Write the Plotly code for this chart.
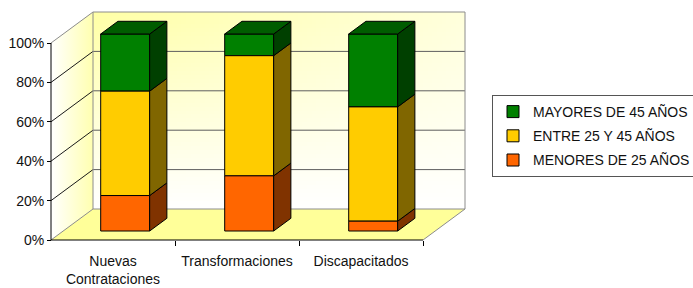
import numpy as np
import plotly.graph_objects as go

# ---------------- data ----------------
categories = ["Nuevas<br>Contrataciones", "Transformaciones", "Discapacitados"]
series_names = ["MENORES DE 25 AÑOS", "ENTRE 25 Y 45 AÑOS", "MAYORES DE 45 AÑOS"]
menores = [18, 28, 5]
entre = [53, 61, 58]
mayores = [29, 11, 37]
y_tick_values = [0, 20, 40, 60, 80, 100]
y_tick_labels = ["0%", "20%", "40%", "60%", "80%", "100%"]

series = [menores, entre, mayores]
front_colors = ["#FF6600", "#FFCC00", "#008000"]
side_colors = ["#803300", "#806600", "#004000"]
top_colors = ["#B34700", "#B38F00", "#005C00"]

# ---------------- geometry (pseudo-3D projection) ----------------
W_PX, H_PX = 693, 288
ORIGIN_X, ORIGIN_Y = 51, 240          # pixel position of (x=0, y=0%)
PX_CAT = 124                           # pixels per category
PX_PCT = 1.97                          # pixels per percent
DX = 42 / PX_CAT                       # depth offset in x (data units)
DY = 31 / PX_PCT                       # depth offset in y (data units)
D0 = 0.29                              # depth of bar front face
DD = 0.41                              # bar depth
BAR_W = 0.395
PLOT_L, PLOT_R, PLOT_T, PLOT_B = 41, 470, 8, 246

x_range = [(PLOT_L - ORIGIN_X) / PX_CAT, (PLOT_R - ORIGIN_X) / PX_CAT]
y_range = [(ORIGIN_Y - PLOT_B) / PX_PCT, (ORIGIN_Y - PLOT_T) / PX_PCT]
n = len(categories)
ymax = 100

fig = go.Figure()

# ---- back wall (2D gradient) ----
nx, ny = 80, 50
xe = np.linspace(DX, n + DX, nx + 1)
ye = np.linspace(DY, ymax + DY, ny + 1)
xc = (xe[:-1] + xe[1:]) / 2
yc = (ye[:-1] + ye[1:]) / 2
XN, YN = np.meshgrid((xc - DX) / n, (yc - DY) / ymax)
zwall = YN * (1 - 0.6 * XN)
fig.add_trace(go.Heatmap(x=xe, y=ye, z=zwall, zmin=0, zmax=1,
                         colorscale=[[0, "#FFFFFF"], [1, "#FFFFA5"]],
                         showscale=False, hoverinfo="skip"))

# ---- left wall ----
fig.add_trace(go.Scatter(x=[0, DX, DX, 0, 0], y=[0, DY, ymax + DY, ymax, 0],
                         mode="lines", fill="toself", line=dict(width=0),
                         fillgradient=dict(type="horizontal",
                                           colorscale=[[0, "#FFFFFF"], [1, "#FFFFB0"]],
                                           start=0, stop=DX),
                         showlegend=False, hoverinfo="skip"))

# ---- floor ----
fig.add_trace(go.Scatter(x=[0, n, n + DX, DX, 0], y=[0, 0, DY, DY, 0],
                         mode="lines", fill="toself", fillcolor="#FFFF99",
                         line=dict(width=0), showlegend=False, hoverinfo="skip"))

# ---- grid lines ----
gx, gy, lx, ly = [], [], [], []
for g in y_tick_values[1:-1]:
    gx += [DX, n + DX, None]
    gy += [g + DY, g + DY, None]
    lx += [0, DX, None]
    ly += [g, g + DY, None]
fig.add_trace(go.Scatter(x=gx, y=gy, mode="lines", line=dict(color="#5E5E5E", width=1),
                         showlegend=False, hoverinfo="skip"))
fig.add_trace(go.Scatter(x=lx, y=ly, mode="lines", line=dict(color="#1A1A1A", width=1),
                         showlegend=False, hoverinfo="skip"))

# ---- wall edges ----
ex = [0, DX, n + DX, n + DX, DX, DX, None, 0, DX, None, n, n + DX]
ey = [ymax, ymax + DY, ymax + DY, DY, DY, ymax + DY, None, 0, DY, None, 0, DY]
fig.add_trace(go.Scatter(x=ex, y=ey, mode="lines", line=dict(color="#8C8C8C", width=1),
                         showlegend=False, hoverinfo="skip"))

# ---- stacking geometry ----
centers = [i + 0.5 + D0 * DX for i in range(n)]
base0 = D0 * DY
cum = [base0] * n
seg_bounds = []
for vals in series:
    seg_bounds.append([(cum[i], cum[i] + vals[i]) for i in range(n)])
    cum = [cum[i] + vals[i] for i in range(n)]

# ---- bars (front faces) on overlay axes; added top series first for legend order ----
for k in reversed(range(len(series))):
    fig.add_trace(go.Bar(x=centers, y=series[k], base=[b for b, _ in seg_bounds[k]],
                         width=BAR_W, name=series_names[k], legendgroup=series_names[k],
                         marker=dict(color=front_colors[k], line=dict(color="#000000", width=1)),
                         xaxis="x2", yaxis="y2", hoverinfo="skip"))

# ---- side faces ----
ox, oy = DD * DX, DD * DY
for k in range(len(series)):
    sx, sy = [], []
    for i in range(n):
        b, t = seg_bounds[k][i]
        if t - b <= 0:
            continue
        xr = centers[i] + BAR_W / 2
        sx += [xr, xr + ox, xr + ox, xr, xr, None]
        sy += [b, b + oy, t + oy, t, b, None]
    fig.add_trace(go.Scatter(x=sx, y=sy, mode="lines", fill="toself",
                             fillcolor=side_colors[k], line=dict(color="#000000", width=1),
                             xaxis="x2", yaxis="y2", showlegend=False, hoverinfo="skip"))

# ---- top faces ----
for i in range(n):
    kt = max(k for k in range(len(series)) if series[k][i] > 0)
    T = cum[i]
    xl = centers[i] - BAR_W / 2
    xr = centers[i] + BAR_W / 2
    fig.add_trace(go.Scatter(x=[xl, xr, xr + ox, xl + ox, xl],
                             y=[T, T, T + oy, T + oy, T],
                             mode="lines", fill="toself", fillcolor=top_colors[kt],
                             line=dict(color="#000000", width=1),
                             xaxis="x2", yaxis="y2", showlegend=False, hoverinfo="skip"))

# ---- axis lines ----
fig.add_shape(type="line", x0=0, y0=0, x1=0, y1=ymax, xref="x", yref="y",
              line=dict(color="#000000", width=1))
fig.add_shape(type="line", x0=0, y0=0, x1=n, y1=0, xref="x", yref="y",
              line=dict(color="#000000", width=1))

font = dict(family="Liberation Sans, Arial, sans-serif", size=14, color="#111111")
fig.update_layout(
    width=W_PX, height=H_PX,
    margin=dict(l=PLOT_L, r=W_PX - PLOT_R, t=PLOT_T, b=H_PX - PLOT_B, pad=0,
                autoexpand=False),
    paper_bgcolor="#FFFFFF", plot_bgcolor="#FFFFFF",
    font=font, barmode="overlay",
    xaxis=dict(range=x_range, domain=[0, 1], anchor="free", automargin=False,
               position=(PLOT_B - ORIGIN_Y) / (PLOT_B - PLOT_T),
               tickmode="array", tickvals=[i + 0.5 for i in range(n)], ticktext=categories,
               ticks="", showgrid=False, zeroline=False, showline=False,
               ticklabelstandoff=11, tickfont=font,
               minor=dict(tickmode="array", tickvals=list(range(1, n + 1)), ticks="outside",
                          ticklen=5, tickcolor="#000000", tickwidth=1, showgrid=False)),
    yaxis=dict(range=y_range, anchor="free", automargin=False,
               position=(ORIGIN_X - PLOT_L) / (PLOT_R - PLOT_L),
               tickmode="array", tickvals=y_tick_values, ticktext=y_tick_labels,
               ticks="outside", ticklen=4, tickcolor="#000000", tickwidth=1,
               showgrid=False, zeroline=False, showline=False, tickfont=font),
    xaxis2=dict(range=x_range, overlaying="x", anchor="y2", visible=False),
    yaxis2=dict(range=y_range, overlaying="y", anchor="x2", visible=False),
    legend=dict(x=492 / W_PX, y=1 - 95 / H_PX, xref="container", yref="container",
                xanchor="left", yanchor="top", bordercolor="#555555", borderwidth=1,
                bgcolor="#FFFFFF", font=font, traceorder="grouped",
                tracegroupgap=3),
    showlegend=True,
)

fig.write_html("out.html", config={"displayModeBar": False},
               post_script="document.body.style.margin='0';document.body.style.padding='0';")
